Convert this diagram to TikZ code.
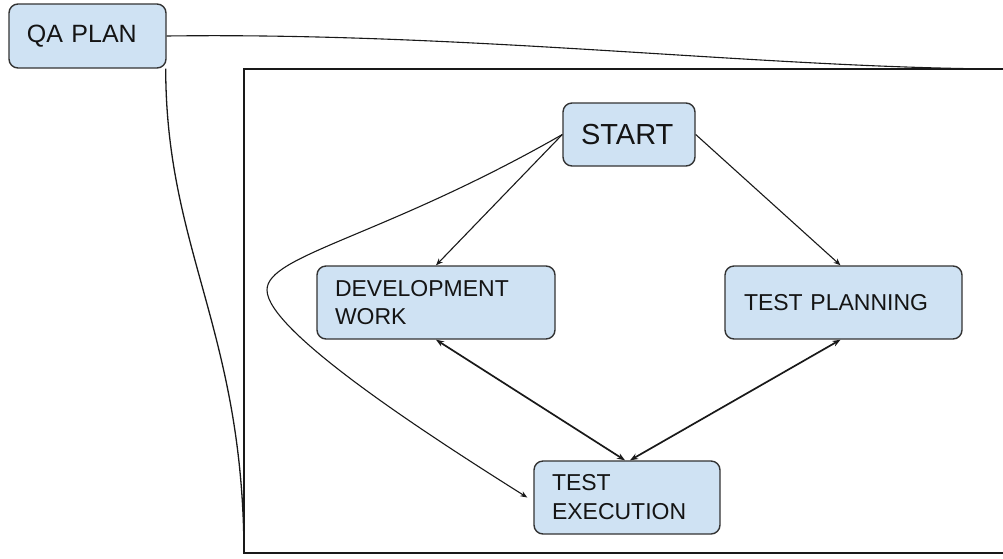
\documentclass[tikz,border=0pt]{standalone}
\usepackage{fontspec}
\setmainfont{Liberation Sans}
\usetikzlibrary{arrows.meta}
\definecolor{boxfill}{HTML}{CFE2F3}
\definecolor{boxline}{HTML}{333333}
\definecolor{txt}{HTML}{141414}
\tikzset{
  box/.style={draw=boxline, fill=boxfill, rounded corners=9pt, line width=1.4pt,
    inner xsep=18pt, inner ysep=0pt, align=left, text=txt, anchor=center},
  conn/.style={draw=black!90, line width=1.1pt},
  tip/.style={-{Stealth[length=7pt,width=5.5pt]}},
  dtip/.style={{Stealth[length=8pt,width=6pt]}-{Stealth[length=8pt,width=6pt]}},
  framel/.style={draw=black!90, line width=1.5pt}
}
\begin{document}
\begin{tikzpicture}[x=1pt,y=-1pt]
\useasboundingbox (0,0) rectangle (1003,558);
% frame (open on the right, runs off the page)
\coordinate (frTR) at (1010,69);
\coordinate (frTL) at (244,69);
\coordinate (frBL) at (244,553);
\coordinate (frBR) at (1010,553);
\draw[framel] (frTR) -- (frTL) -- (frBL) -- (frBR);
\coordinate (topend) at (1003,69);
% nodes
\node[box, text width=121pt, minimum height=64pt, font=\fontsize{25}{30}\selectfont] (qa) at (87.5,36) {QA PLAN};
\node[box, text width=96pt, minimum height=63pt, font=\fontsize{29}{34}\selectfont] (start) at (629,134.5) {START};
\node[box, text width=202pt, minimum height=73pt, font=\fontsize{23}{28}\selectfont] (dev) at (436,302.5) {DEVELOPMENT\\WORK};
\node[box, text width=199pt, minimum height=73pt, font=\fontsize{23}{28}\selectfont, inner xsep=19pt] (tp) at (843.5,302.5) {TEST PLANNING};
\node[box, text width=150pt, minimum height=73pt, font=\fontsize{23}{29}\selectfont] (te) at (627,497.5) {TEST\\EXECUTION};
% connectors
\draw[conn] (qa.east) .. controls (470,32) and (760,68) .. (topend);
\draw[conn, line width=1.3pt] (qa.south east) ++(-1,0) .. controls (166,250) and (243,330) .. (frBL);
\draw[conn, tip] (start.west) -- (dev.north);
\draw[conn, tip] (start.east) -- ([xshift=-3pt]tp.north);
\draw[conn, line width=1.7pt, dtip] (dev.south) -- ([xshift=-2pt]te.north);
\draw[conn, line width=1.7pt, dtip] ([xshift=-3pt]tp.south) -- ([xshift=3pt]te.north);
\draw[conn, tip] (start.west) .. controls (383,237) and (267,255) .. (267,290)
   .. controls (267,330) and (420,430) .. ([xshift=-6pt]te.west);
\end{tikzpicture}
\end{document}
